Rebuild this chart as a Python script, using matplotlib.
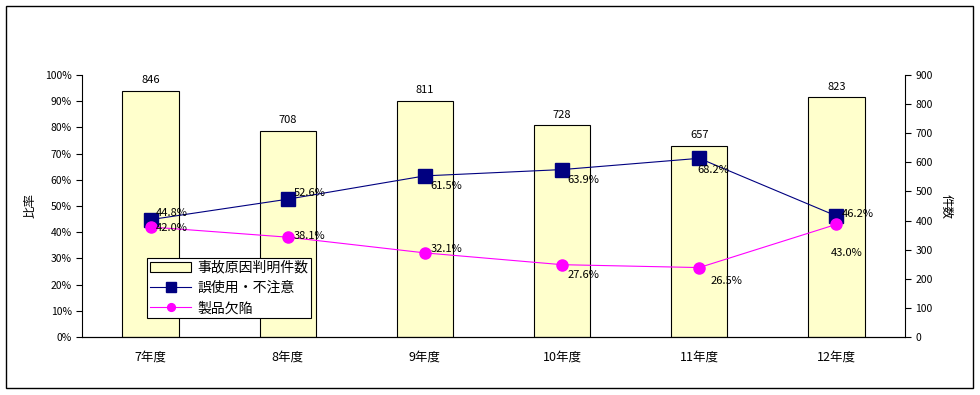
import matplotlib
matplotlib.use('Agg')
import matplotlib.pyplot as plt
import matplotlib.ticker as mticker
from matplotlib.patches import Rectangle

plt.rcParams['font.family'] = ['Noto Sans CJK JP', 'DejaVu Sans']

years = ['7年度', '8年度', '9年度', '10年度', '11年度', '12年度']
counts = [846, 708, 811, 728, 657, 823]
misuse = [44.8, 52.6, 61.5, 63.9, 68.2, 46.2]
defect = [42.0, 38.1, 32.1, 27.6, 26.5, 43.0]

# label offsets (points) for the line labels
misuse_off = [(4, 1), (4, 1), (4, -11), (4, -11), (-1, -12), (4, -2)]
defect_off = [(4, -4), (4, -3), (4, -1), (4, -11), (8, -13), (-4, -24)]

fig = plt.figure(figsize=(9.8, 3.95), dpi=100)
fig.patches.append(Rectangle((0.006, 0.018), 0.987, 0.967, transform=fig.transFigure,
                             fill=False, edgecolor='black', linewidth=1))

ax = fig.add_axes([82/980, 1-337/395, (905-82)/980, (337-75)/395])
ax2 = ax.twinx()
ax.set_zorder(ax2.get_zorder() + 1)
ax.patch.set_visible(False)

x = list(range(len(years)))
bars = ax2.bar(x, counts, width=0.41, color='#FFFFCC', edgecolor='black', linewidth=0.8,
               label='事故原因判明件数')
for xi, c in zip(x, counts):
    ax2.annotate(str(c), (xi, c), xytext=(0, 4), textcoords='offset points',
                 ha='center', va='bottom', fontsize=8)
ax2.set_ylim(0, 900)
ax2.set_yticks(range(0, 901, 100))
ax2.set_ylabel('件数', rotation=-90, labelpad=14, fontsize=9)

l1, = ax.plot(x, misuse, color='#000080', marker='s', markersize=10, linewidth=0.8,
              label='誤使用・不注意')
l2, = ax.plot(x, defect, color='#FF00FF', marker='o', markersize=8, linewidth=0.8,
              label='製品欠陥')
for xi, v, off in zip(x, misuse, misuse_off):
    ax.annotate(f'{v:.1f}%', (xi, v), xytext=off, textcoords='offset points',
                ha='left', va='bottom', fontsize=8)
for xi, v, off in zip(x, defect, defect_off):
    ax.annotate(f'{v:.1f}%', (xi, v), xytext=off, textcoords='offset points',
                ha='left', va='bottom', fontsize=8)

ax.set_xlim(-0.5, len(years) - 0.5)
ax.set_ylim(0, 100)
ax.set_yticks(range(0, 101, 10))
ax.yaxis.set_major_formatter(mticker.FuncFormatter(lambda v, p: f'{int(v)}%'))
ax.set_xticks(x)
ax.set_xticklabels(years, fontsize=9)
ax.set_ylabel('比率', labelpad=6, fontsize=9)

for a in (ax, ax2):
    a.spines['top'].set_visible(False)
    a.tick_params(axis='y', labelsize=7.5, direction='out', length=4)
ax.tick_params(axis='x', length=0, pad=10)
ax.spines['right'].set_visible(False)
ax2.spines['left'].set_visible(False)

leg = ax.legend([bars, l1, l2], ['事故原因判明件数', '誤使用・不注意', '製品欠陥'],
                loc='lower left', bbox_to_anchor=(0.079, 0.072), fontsize=10,
                frameon=True, fancybox=False, edgecolor='black', framealpha=1,
                borderpad=0.2, labelspacing=0.45, handlelength=3.0, handletextpad=0.4,
                markerscale=0.7, borderaxespad=0)
leg.get_frame().set_linewidth(0.8)

fig.savefig('out.png', dpi=100)
